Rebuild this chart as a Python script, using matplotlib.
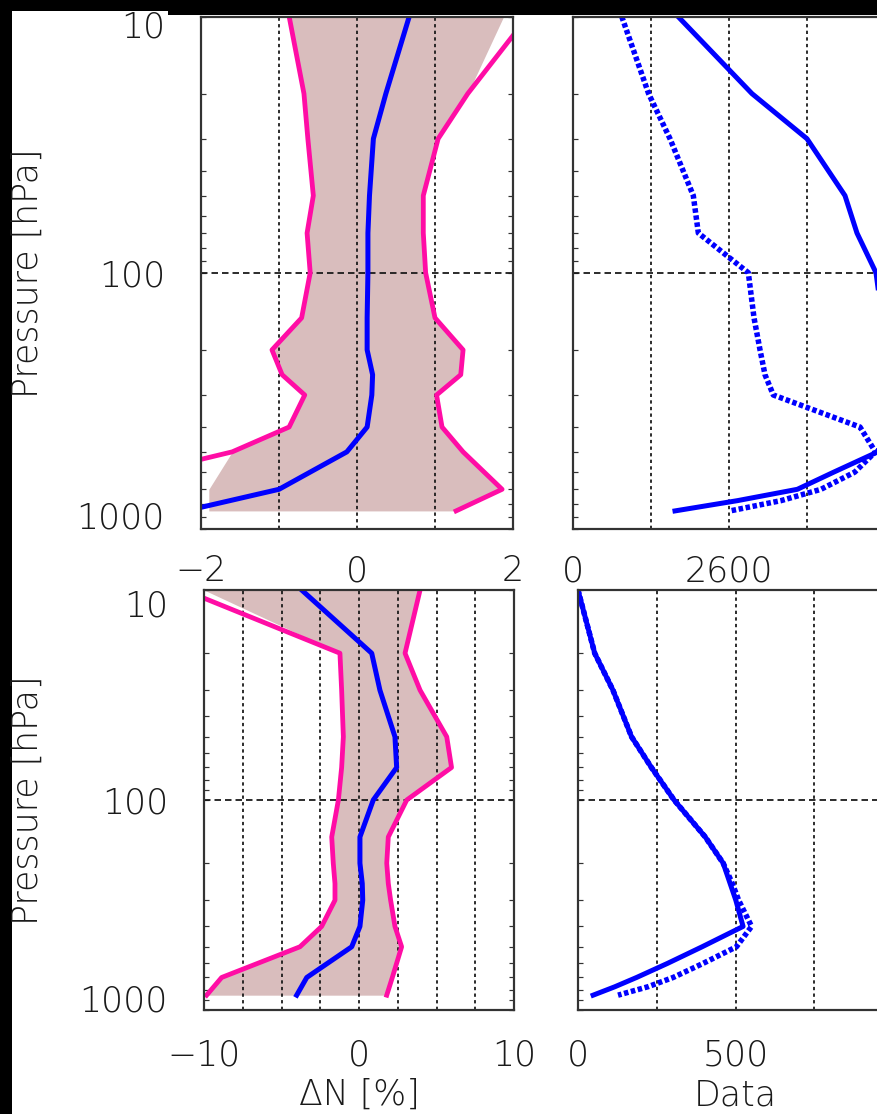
import numpy as np
import matplotlib
matplotlib.use("Agg")
import matplotlib.pyplot as plt
import matplotlib.transforms as mtransforms
from matplotlib.patches import Rectangle
from matplotlib.ticker import FixedLocator, NullFormatter, LogLocator

plt.rcParams['font.family'] = ['DejaVu Sans']
plt.rcParams['font.weight'] = 'light'
plt.rcParams['axes.labelweight'] = 'light'
plt.rcParams['lines.scale_dashes'] = False

# ---------------------------------------------------------------- data
# pressure levels [hPa] of the departure statistics
levels_dn = [10, 20, 30, 50, 70, 100, 150, 200, 250, 300, 400, 500, 700, 850]
# pressure levels [hPa] of the data counts
levels_n = [10, 20, 30, 50, 70, 100, 150, 200, 250, 300, 400, 500, 600, 700, 775, 850]

# upper row: refractivity departure [%]
dn_mean_upper = [0.67, 0.37, 0.21, 0.16, 0.14, 0.14, 0.13, 0.13, 0.20, 0.19, 0.13, -0.13, -1.00, -2.20]
dn_low_upper = [-0.87, -0.68, -0.63, -0.56, -0.64, -0.60, -0.71, -1.09, -0.96, -0.67, -0.87, -1.60, -3.60, -3.80]
dn_high_upper = [2.19, 1.42, 1.04, 0.85, 0.85, 0.88, 1.00, 1.36, 1.33, 1.02, 1.09, 1.36, 1.86, 1.27]

# upper row: number of data
count_upper = [1750, 2983, 3900, 4533, 4733, 5050, 5150, 5200, 5230, 5230, 5180, 5080, 4345, 3739, 2742, 1700]
count_upper_used = [812, 1260, 1617, 2005, 2089, 2922, 3017, 3117, 3200, 3339, 4783, 5040, 4695, 4133, 3467, 2617]

# lower row: refractivity departure [%]
dn_mean_lower = [-3.70, 0.82, 1.35, 2.32, 2.43, 0.92, 0.06, 0.06, 0.21, 0.24, 0.06, -0.47, -3.37, -4.02]
dn_low_lower = [-11.3, -1.23, -1.12, -1.01, -1.12, -1.33, -1.76, -1.66, -1.55, -1.55, -2.41, -3.81, -8.86, -9.83]
dn_high_lower = [3.94, 2.97, 3.94, 5.66, 5.97, 3.08, 1.89, 1.79, 1.89, 2.04, 2.32, 2.75, 2.15, 1.79]

# lower row: number of data
count_lower = [0, 53, 111, 170, 233, 305, 404, 461, 483, 501, 524, 394, 284, 186, 117, 48]
count_lower_used = [0, 53, 111, 170, 233, 305, 404, 461, 490, 510, 551, 503, 397, 302, 222, 127]

pressure_ticks = [10, 100, 1000]
pressure_labels = ['10', '100', '1000']

# ---------------------------------------------------------------- style
W, H, DPI = 877, 1114, 100
BLUE = '#0000FF'
PINK = '#FF0DA5'
SHADE = '#D9BDBD'
GRID = '#1a1a1a'
SPINE = '#333333'
TEXT = '#1a1a1a'
FS_TICK = 25
FS_LABEL = 25

fig = plt.figure(figsize=(W / DPI, H / DPI), dpi=DPI)
fig.patch.set_facecolor('black')
fig.add_artist(Rectangle((12 / W, 0), (W - 12) / W, (H - 15) / H,
                         transform=fig.transFigure, facecolor='white',
                         edgecolor='none', zorder=-10))
fig.add_artist(Rectangle((12 / W, (H - 15) / H), 156 / W, 4 / H,
                         transform=fig.transFigure, facecolor='white',
                         edgecolor='none', zorder=-10))


def rect(x0, y0, x1, y1):
    return [x0 / W, 1 - y1 / H, (x1 - x0) / W, (y1 - y0) / H]


def px(v):
    return v * 72.0 / DPI


def setup_axis(ax, xlim, xgrid, xticks, xlabels, ylabels, xpad, lab_shift=None):
    ax.set_yscale('log')
    ax.set_ylim(1000, 10)
    ax.set_xlim(*xlim)
    ax.set_facecolor('white')
    for s in ax.spines.values():
        s.set_color(SPINE)
        s.set_linewidth(px(2.2))
        s.set_zorder(5)
    for xv in xgrid:
        ax.axvline(xv, color=GRID, lw=px(1.8), dashes=(px(3.3), px(3.3)),
                   zorder=2)
    ax.axhline(100, color=GRID, lw=px(1.8), dashes=(px(6.5), px(4)), zorder=2)

    ax.set_xticks(xticks)
    ax.set_xticklabels(xlabels)
    ax.tick_params(axis='x', length=0, pad=px(xpad), labelsize=FS_TICK,
                   labelcolor=TEXT)
    ax.yaxis.set_major_locator(FixedLocator(pressure_ticks))
    ax.yaxis.set_minor_locator(LogLocator(base=10, subs=np.arange(2, 10)))
    ax.yaxis.set_minor_formatter(NullFormatter())
    ax.tick_params(axis='y', which='both', direction='in', left=True,
                   right=True, length=px(5), width=px(1.2), color=SPINE)
    if ylabels:
        ax.set_yticklabels(pressure_labels)
        ax.tick_params(axis='y', labelsize=FS_TICK, pad=px(36),
                       labelcolor=TEXT)
        if lab_shift is not None:
            labs = ax.get_yticklabels()
            for lab, dy in zip([labs[0], labs[-1]], lab_shift):
                off = mtransforms.ScaledTranslation(0, -dy / DPI,
                                                    fig.dpi_scale_trans)
                lab.set_transform(lab.get_transform() + off)
    else:
        ax.set_yticklabels([])


def draw_departure(ax, mean, low, high, clip_lo, clip_hi):
    ax.fill_betweenx(levels_dn, np.clip(low, clip_lo, clip_hi),
                     np.clip(high, clip_lo, clip_hi), color=SHADE,
                     lw=0, zorder=1)
    ax.plot(low, levels_dn, color=PINK, lw=px(4.8), zorder=3)
    ax.plot(high, levels_dn, color=PINK, lw=px(4.8), zorder=3)
    ax.plot(mean, levels_dn, color=BLUE, lw=px(5), zorder=4)


def draw_counts(ax, total, used):
    ax.plot(used, levels_n, color=BLUE, lw=px(5.5),
            dashes=(px(4.5), px(2.6)), dash_capstyle='butt', zorder=3)
    ax.plot(total, levels_n, color=BLUE, lw=px(5), zorder=4)


def label_style(label):
    label.set_va('center')
    label.set_color(TEXT)
    label.set_fontsize(FS_LABEL)


# upper left: departure statistics
ax_a = fig.add_axes(rect(201, 16.5, 513, 529))
setup_axis(ax_a, (-2, 2), [-1, 0, 1], [-2, -1, 0, 1, 2],
           ['\u22122', '', '0', '', '2'], True, 25, lab_shift=(7, -14))
draw_departure(ax_a, dn_mean_upper, dn_low_upper, dn_high_upper, -1.9, 1.88)
ax_a.set_ylabel('Pressure [hPa]')
ax_a.yaxis.set_label_coords((28 - 201) / 312, 0.5)
label_style(ax_a.yaxis.label)

# upper right: number of data
ax_b = fig.add_axes(rect(573, 16.5, 885, 529))
setup_axis(ax_b, (0, 5200), [1300, 2600, 3900], [0, 1300, 2600, 3900],
           ['0', '', '2600', ''], False, 25)
draw_counts(ax_b, count_upper, count_upper_used)

# lower left: departure statistics
ax_c = fig.add_axes(rect(204, 590, 514, 1010))
setup_axis(ax_c, (-10, 10), [-7.5, -5, -2.5, 0, 2.5, 5, 7.5], [-10, 0, 10],
           ['\u221210', '0', '10'], True, 28, lab_shift=(13, -12))
draw_departure(ax_c, dn_mean_lower, dn_low_lower, dn_high_lower, -10, 10)
ax_c.set_ylabel('Pressure [hPa]')
ax_c.yaxis.set_label_coords((28 - 204) / 310, 0.5)
label_style(ax_c.yaxis.label)
ax_c.set_xlabel('\u0394N [%]')
ax_c.xaxis.set_label_coords(0.5, -(1095 - 1010) / 420)
label_style(ax_c.xaxis.label)

# lower right: number of data
ax_d = fig.add_axes(rect(578, 590, 893, 1010))
setup_axis(ax_d, (0, 1000), [250, 500, 750], [0, 250, 500, 750],
           ['0', '', '500', ''], False, 28)
draw_counts(ax_d, count_lower, count_lower_used)
ax_d.set_xlabel('Data')
ax_d.xaxis.set_label_coords(0.5, -(1095 - 1010) / 420)
label_style(ax_d.xaxis.label)

fig.savefig('out.png', dpi=DPI, facecolor=fig.get_facecolor())
